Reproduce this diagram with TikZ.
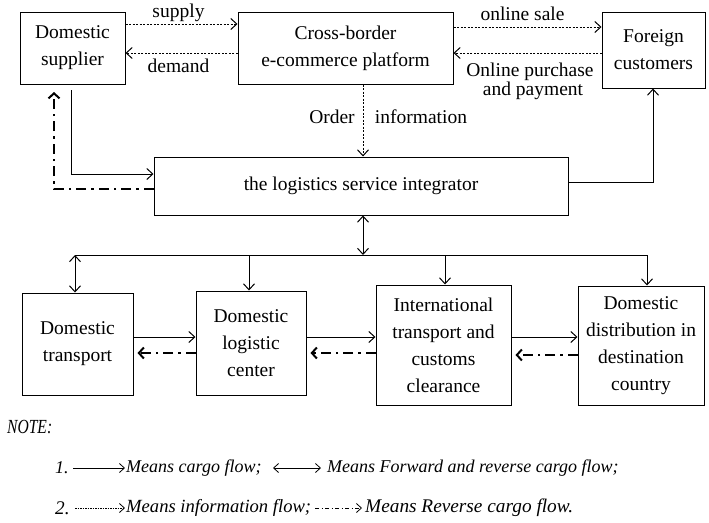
\documentclass[tikz,border=0pt]{standalone}
\usepackage{fontspec}
\setmainfont{Liberation Serif}
\usetikzlibrary{arrows.meta}
\begin{document}
\begin{tikzpicture}[x=1pt,y=-1pt,
  box/.style={draw,line width=1pt,align=center,inner sep=0pt,font=\fontsize{19.5}{27}\selectfont},
  lbl/.style={inner sep=0pt,align=center,font=\fontsize{19.5}{19.5}\selectfont},
  note/.style={inner sep=0pt,anchor=west,font=\fontsize{18}{20}\selectfont\itshape},
  noteb/.style={inner sep=0pt,anchor=west,font=\fontsize{19.3}{20}\selectfont\itshape},
  notec/.style={inner sep=0pt,anchor=west,font=\fontsize{18.6}{20}\selectfont\itshape},
  cargo/.style={line width=1pt,-{Straight Barb[length=6pt,width=11pt]}},
  both/.style={line width=1pt,{Straight Barb[length=6pt,width=11pt]}-{Straight Barb[length=6pt,width=11pt]}},
  info/.style={line width=1pt,dash pattern=on 2pt off 1.5pt,-{Straight Barb[length=6pt,width=11pt]}},
  rev/.style={line width=2pt,dash pattern=on 10pt off 5pt on 2.5pt off 5pt,-{Straight Barb[length=5pt,width=11pt]}},
  plain/.style={line width=1pt},
  legtip/.style={-{Straight Barb[length=5pt,width=9pt]}}]
\useasboundingbox (0,0) rectangle (709,522);

% top row
\node[box,minimum width=105pt,minimum height=72pt] (sup) at (72.5,48) {Domestic\\supplier};
\node[box,minimum width=215pt,minimum height=72pt] (plat) at (345.5,48) {Cross-border\\e-commerce platform};
\node[box,minimum width=103pt,minimum height=76pt] (cust) at (653.5,50) {Foreign\\customers};
\node[box,minimum width=414pt,minimum height=58pt] (integ) at (361,186) {the logistics service integrator};

% bottom row
\node[box,minimum width=111pt,minimum height=102pt] (trans) at (77.5,344) {Domestic\\transport};
\node[box,minimum width=110pt,minimum height=104pt] (ctr) at (251,343) {Domestic\\logistic\\center};
\node[box,minimum width=135pt,minimum height=120pt] (intl) at (443.5,345) {International\\transport and\\customs\\clearance};
\node[box,minimum width=126pt,minimum height=119pt] (dest) at (641,345.5) {Domestic\\distribution in\\destination\\country};

% labels
\node[lbl] (lsup) at (178.5,13) {supply};
\node[lbl] (ldem) at (178.5,66) {demand};
\node[lbl] (lsale) at (522.5,14) {online sale};
\node[lbl] (lpur) at (530,72) {Online purchase};
\node[lbl] (lpay) at (533,91) {and payment};
\node[lbl] (lord) at (332,117) {Order};
\node[lbl] (linf) at (421,117) {information};

% information flows
\draw[info] (sup.east |- 0,24) -- (plat.west |- 0,24);
\draw[info] (plat.west |- 0,53) -- (sup.east |- 0,53);
\draw[info] (plat.east |- 0,27) -- (cust.west |- 0,27);
\draw[info] (cust.west |- 0,53) -- (plat.east |- 0,53);
\draw[info] (plat.south -| 363,0) -- (integ.north -| 363,0);

% supplier <-> integrator <-> customers
\coordinate (s1) at (71,90);
\coordinate (s2) at (54,92);
\draw[cargo] (s1) -- (71,174) -- (integ.west |- 0,174);
\draw[rev] (integ.west |- 0,189) -- (54,189) -- (s2);
\draw[cargo] (integ.east |- 0,182) -- (653,182) -- (cust.south -| 653,0);

% bus
\coordinate (b0) at (75,255);
\coordinate (b1) at (249,255);
\coordinate (bm) at (363,255);
\coordinate (b2) at (445,255);
\coordinate (b3) at (647,255);
\draw[both] (integ.south -| bm) -- (bm);
\draw[plain] (b0) -- (b3);
\draw[both] (b0) -- (trans.north -| b0);
\draw[cargo] (b1) -- (ctr.north -| b1);
\draw[cargo] (b2) -- (intl.north -| b2);
\draw[cargo] (b3) -- (dest.north -| b3);

% horizontal cargo flows
\draw[cargo] (trans.east |- 0,337) -- (ctr.west |- 0,337);
\draw[cargo] (ctr.east |- 0,337) -- (intl.west |- 0,337);
\draw[cargo] (intl.east |- 0,337) -- (dest.west |- 0,337);
\draw[rev] (ctr.west |- 0,353) -- ([xshift=4pt]trans.east |- 0,353);
\draw[rev] (intl.west |- 0,353) -- ([xshift=4pt]ctr.east |- 0,353);
\draw[rev] (dest.west |- 0,355) -- ([xshift=4pt]intl.east |- 0,355);

% note
\node[inner sep=0pt,anchor=west,font=\fontsize{20}{20}\selectfont\itshape,xscale=0.78] (nt) at (7,427) {NOTE:};
\node[note] (n1) at (55,468) {1.};
\coordinate (a1) at (73,468); \coordinate (a2) at (125,468);
\draw[line width=0.8pt,legtip] (a1) -- (a2);
\node[note] (t1) at (126,468) {Means cargo flow;};
\coordinate (a3) at (273,468); \coordinate (a4) at (321,468);
\draw[line width=0.8pt,{Straight Barb[length=5pt,width=9pt]}-{Straight Barb[length=5pt,width=9pt]}] (a3) -- (a4);
\node[note] (t2) at (327,468) {Means Forward and reverse cargo flow;};
\node[noteb] (n2) at (55,508) {2.};
\coordinate (c1) at (75,508); \coordinate (c2) at (125,508);
\draw[line width=0.8pt,dash pattern=on 1.5pt off 1pt,legtip] (c1) -- (c2);
\node[notec] (t3) at (126,508) {Means information flow;};
\coordinate (c3) at (315,508); \coordinate (c4) at (362,508);
\draw[line width=0.8pt,dash pattern=on 4pt off 2.5pt on 1pt off 2.5pt,legtip] (c3) -- (c4);
\node[noteb] (t4) at (365,508) {Means Reverse cargo flow.};
\end{tikzpicture}
\end{document}
